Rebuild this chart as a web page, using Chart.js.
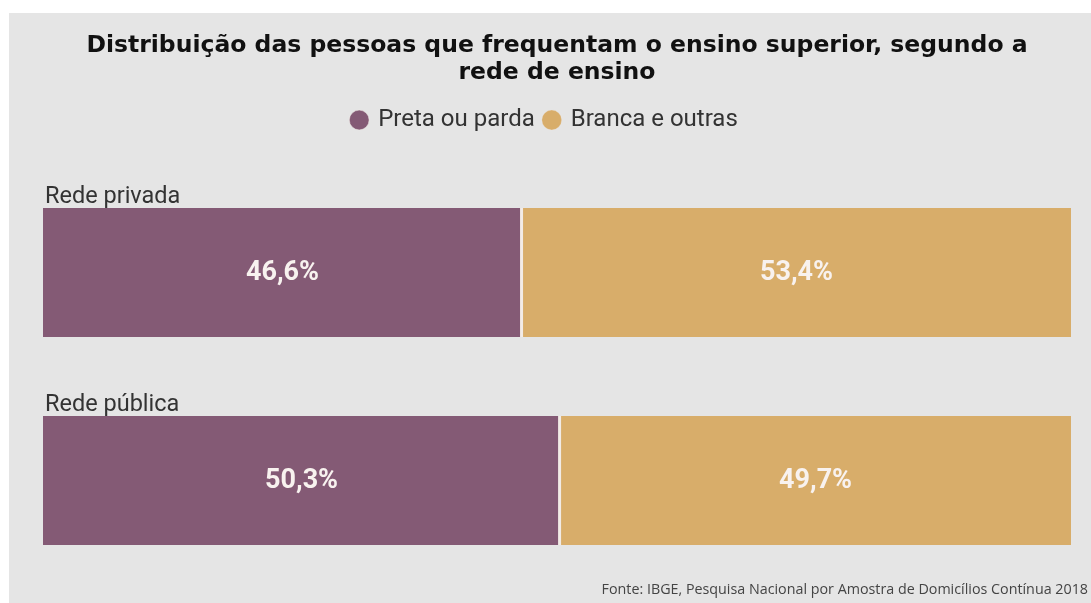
<!DOCTYPE html>
<html>
<head>
<meta charset="utf-8">
<script src="https://cdn.jsdelivr.net/npm/chart.js@4.4.0/dist/chart.umd.min.js"></script>
<style>
  html, body { margin: 0; padding: 0; background: #ffffff; }
  #box { position: absolute; left: 9px; top: 13px; width: 1082px; height: 590px; background: #e5e5e5; }
</style>
</head>
<body>
<div id="box"><canvas id="grafico" width="1082" height="590"></canvas></div>
<script>
var redes = ['Rede privada', 'Rede pública'];
var series = ['Preta ou parda', 'Branca e outras'];
var pretaParda = [46.6, 50.3];
var brancaOutras = [53.4, 49.7];
var cores = ['#845a75', '#d8ad6a'];
var fonte = 'Fonte: IBGE, Pesquisa Nacional por Amostra de Domicílios Contínua 2018';

function fmt(v) {
    return v.toFixed(1).replace('.', ',') + '%';
}

// espaço extra abaixo da legenda e pequeno ajuste horizontal
var ajusteLegenda = {
    id: 'ajusteLegenda',
    beforeInit: function(chart) {
        var fit = chart.legend.fit;
        chart.legend.fit = function() {
            fit.bind(chart.legend)();
            this.height += 26.5;
        };
    },
    afterLayout: function(chart) {
        chart.legend.left -= 12;
        chart.legend.right -= 12;
    }
};

// rótulos das categorias, valores dentro das barras e fonte
var textos = {
    id: 'textos',
    afterDatasetsDraw: function(chart) {
        var ctx = chart.ctx;
        ctx.save();
        var meta0 = chart.getDatasetMeta(0);
        meta0.data.forEach(function(bar, i) {
            ctx.font = '23.5px Roboto';
            ctx.fillStyle = '#333333';
            ctx.textAlign = 'left';
            ctx.textBaseline = 'alphabetic';
            ctx.fillText(redes[i], bar.base + 2, bar.y - bar.height / 2 - 5);
        });
        chart.data.datasets.forEach(function(ds, d) {
            chart.getDatasetMeta(d).data.forEach(function(bar, i) {
                ctx.font = 'bold 27px Roboto';
                ctx.fillStyle = '#f8f2ef';
                ctx.textAlign = 'center';
                ctx.textBaseline = 'middle';
                ctx.fillText(fmt(ds.data[i]), (bar.x + bar.base) / 2, bar.y + 1);
            });
        });
        ctx.font = '14.3px "Open Sans"';
        ctx.fillStyle = '#444444';
        ctx.textAlign = 'right';
        ctx.textBaseline = 'middle';
        ctx.fillText(fonte, chart.width - 3, chart.height - 13);
        ctx.restore();
    }
};

var canvas = document.getElementById('grafico').getContext('2d');

new Chart(canvas, {
    type: 'bar',
    data: {
        labels: redes,
        datasets: [
            {
                label: series[0],
                data: pretaParda,
                backgroundColor: cores[0],
                borderColor: '#f3ece6',
                borderWidth: { top: 0, left: 0, bottom: 0, right: 2 },
                borderSkipped: false
            },
            {
                label: series[1],
                data: brancaOutras,
                backgroundColor: cores[1],
                borderColor: '#f3ece6',
                borderWidth: { top: 0, left: 1, bottom: 0, right: 0 },
                borderSkipped: false
            }
        ]
    },
    options: {
        indexAxis: 'y',
        responsive: false,
        animation: false,
        barPercentage: 0.62,
        categoryPercentage: 1,
        layout: {
            padding: { top: 0, left: 34, right: 20, bottom: 18.5 }
        },
        scales: {
            x: { stacked: true, min: 0, max: 100, display: false },
            y: { stacked: true, display: false }
        },
        plugins: {
            tooltip: { enabled: false },
            title: {
                display: true,
                text: ['Distribuição das pessoas que frequentam o ensino superior, segundo a', 'rede de ensino'],
                color: '#111111',
                font: { family: 'DejaVu Sans', size: 23.5, weight: 'bold', lineHeight: 1.149 },
                padding: { top: 19.5, bottom: 11.5 }
            },
            legend: {
                display: true,
                labels: {
                    usePointStyle: true,
                    pointStyle: 'circle',
                    boxWidth: 14,
                    boxHeight: 14,
                    padding: 10,
                    color: '#333333',
                    font: { family: 'Roboto', size: 24 }
                }
            }
        }
    },
    plugins: [ajusteLegenda, textos]
});
</script>
</body>
</html>
